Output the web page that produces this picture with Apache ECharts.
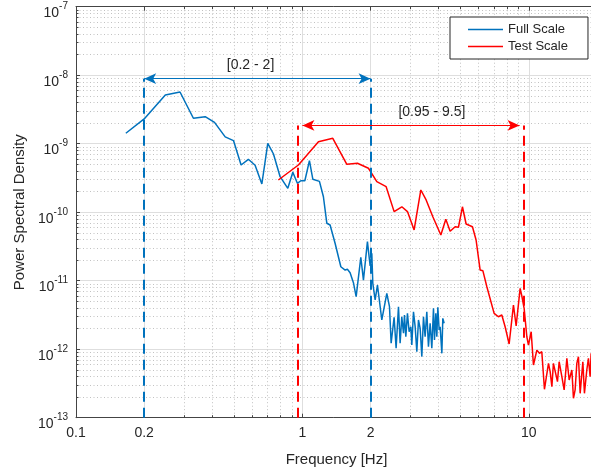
<!DOCTYPE html>
<html><head><meta charset="utf-8">
<script src="https://cdn.jsdelivr.net/npm/echarts@6/dist/echarts.min.js"></script>
<style>html,body{margin:0;padding:0;background:#fff}#c{width:591px;height:474px}</style>
</head><body><div id="c"></div><script>
const fullFreq = [0.166,0.200,0.248,0.288,0.330,0.372,0.409,0.456,0.496,0.536,0.577,0.618,0.662,0.703,0.745,0.797,0.862,0.907,0.950,0.984,1.025,1.074,1.112,1.189,1.238,1.282,1.325,1.394,1.478,1.544,1.580,1.624,1.680,1.727,1.811,1.860,1.937,1.991,2.025,2.046,2.095,2.145,2.189,2.242,2.359,2.424,2.465,2.541,2.593,2.656,2.701,2.747,2.795,2.823,2.862,2.910,2.960,3.011,3.042,3.094,3.147,3.201,3.255,3.311,3.368,3.425,3.483,3.543,3.603,3.665,3.728,3.792,3.830,3.883,3.923,3.963,4.017,4.058,4.129,4.169,4.226];
const fullPsd = [1.42e-9,2.30e-9,5.14e-9,5.69e-9,2.35e-9,2.48e-9,2.05e-9,1.26e-9,1.11e-9,4.89e-10,5.92e-10,4.84e-10,2.58e-10,1.01e-9,7.07e-10,3.30e-10,2.23e-10,3.82e-10,2.64e-10,2.88e-10,2.88e-10,5.65e-10,3.02e-10,2.82e-10,1.68e-10,6.89e-11,6.50e-11,3.52e-11,1.60e-11,1.43e-11,1.47e-11,1.31e-11,9.35e-12,5.84e-12,2.20e-11,1.02e-11,3.71e-11,1.64e-11,2.51e-11,9.16e-12,5.23e-12,8.65e-12,8.37e-12,2.67e-12,6.55e-12,4.17e-12,1.22e-12,2.92e-12,1.03e-12,4.17e-12,1.22e-12,2.98e-12,1.71e-12,3.16e-12,1.52e-12,3.34e-12,1.80e-12,2.13e-12,1.15e-12,3.52e-12,2.13e-12,9.2e-13,2.67e-12,2.02e-12,7.8e-13,2.98e-12,1.52e-12,3.52e-12,1.09e-12,2.39e-12,1.03e-12,3.95e-12,1.36e-12,3.34e-12,1.52e-12,4.09e-12,1.91e-12,2.13e-12,8.7e-13,2.82e-12,2.39e-12];
const testFreq = [0.783,0.960,1.177,1.362,1.571,1.750,1.957,2.131,2.343,2.541,2.748,2.910,3.114,3.334,3.519,3.767,4.087,4.299,4.491,4.726,4.887,5.090,5.285,5.636,5.848,6.094,6.264,6.525,7.026,7.339,7.597,7.857,8.185,8.551,8.788,9.153,9.312,9.533,9.799,9.960,10.24,10.48,10.85,11.14,11.41,11.72,11.92,12.21,12.42,12.64,12.84,13.07,13.38,13.61,13.99,14.32,14.72,15.07,15.49,15.74,16.01,16.29,16.56,16.85,17.32,17.60,18.03,18.33,18.65,18.84,19.20];
const testPsd = [2.95e-10,4.89e-10,1.07e-9,1.20e-9,5.00e-10,5.18e-10,4.38e-10,2.79e-10,2.36e-10,1.02e-10,1.20e-10,1.02e-10,5.50e-11,2.11e-10,1.51e-10,8.60e-11,4.65e-11,7.88e-11,5.26e-11,6.14e-11,6.02e-11,1.20e-10,6.73e-11,6.14e-11,3.93e-11,1.43e-11,1.40e-11,8.17e-12,3.34e-12,2.98e-12,3.16e-12,2.13e-12,1.19e-12,4.42e-12,2.18e-12,7.74e-12,5.98e-12,3.95e-12,1.52e-12,1.15e-12,1.80e-12,5.88e-13,9.7e-13,8.7e-13,9.2e-13,2.60e-13,2.48e-13,6.22e-13,4.70e-13,2.84e-13,6.22e-13,5.88e-13,3.36e-13,6.57e-13,3.97e-13,2.54e-13,7.36e-13,3.55e-13,4.97e-13,1.92e-13,2.54e-13,6.22e-13,7.78e-13,2.27e-13,6.57e-13,2.27e-13,4.97e-13,7.36e-13,3.97e-13,8.7e-13,6.0e-13];
const xMajorTicks = [0.1, 0.2, 1, 2, 10];
const xMinorTicks = [0.3,0.4,0.5,0.6,0.7,0.8,0.9,3,4,5,6,7,8,9,20];
const yMajorTicks = [1e-13,1e-12,1e-11,1e-10,1e-9,1e-8,1e-7];
const yMinorMultipliers = [2,3,4,5,6,7,8,9];
const yMinorTicks = yMajorTicks.slice(0,-1).flatMap(d => yMinorMultipliers.map(m => m*d));
const bandFull = [0.2, 2];
const bandTest = [0.95, 9.5];
const bandNames = ['[0.2 - 2]', '[0.95 - 9.5]'];
const seriesNames = ['Full Scale', 'Test Scale'];

const BLUE = '#0072BD', RED = '#FF0000';
const FONT = '"Liberation Sans", Arial, Helvetica, sans-serif';
const TXT = '#262626', AX = '#444444';
const chart = echarts.init(document.getElementById('c'));
const hidden = {axisLine:{show:false}, axisTick:{show:false}, axisLabel:{show:false}, splitLine:{show:false}};
function logX(extra){ return Object.assign({type:'log', logBase:10, min:0.1, max:20, gridIndex:0}, hidden, extra); }
function logY(extra){ return Object.assign({type:'log', logBase:10, min:1e-13, max:1e-7, gridIndex:0}, hidden, extra); }
const majorGrid = {show:true, lineStyle:{color:'#dedede', width:1}};
const minorGrid = {show:true, lineStyle:{color:'#c2c2c2', width:1, type:[1,2.5]}};
const tickStyle = {color:AX, width:1};
const expOf = v => Math.round(Math.log10(v));

function dashed(x, yTop, color){
  const ls = {color:color, width:2, type:[10,6]};
  return [{coord:[x,1e-13], symbol:'none', lineStyle:ls, itemStyle:{color}}, {coord:[x,yTop], symbol:'none', lineStyle:ls, itemStyle:{color}}];
}
function arrow(x0, x1, y, color){
  const ls = {color:color, width:1.2, type:'solid'};
  return [{coord:[x0,y], symbol:'arrow', symbolSize:[8,12], lineStyle:ls, itemStyle:{color}}, {coord:[x1,y], symbol:'arrow', symbolSize:[8,12], lineStyle:ls, itemStyle:{color}}];
}
const yFull = 8.9e-9, yTest = 1.85e-9;
const lineIcon = 'path://M0,0L35,0L35,1.5L0,1.5Z';

chart.setOption({
  animation:false,
  backgroundColor:'#fff',
  grid:{left:76, top:6.7, width:521, height:411, containLabel:false, outerBoundsMode:'none'},
  legend:{data:seriesNames.map(n => ({name:n, icon:lineIcon})), orient:'vertical', left:450, top:17,
    itemWidth:35, itemHeight:14, itemGap:4, symbolKeepAspect:true,
    padding:[6,20,6,18], borderColor:TXT, borderWidth:1, borderRadius:0, backgroundColor:'#fff',
    textStyle:{fontSize:13, fontFamily:FONT, color:TXT}},
  xAxis:[
    logX({position:'bottom', axisLine:{show:true, onZero:false, lineStyle:{color:AX, width:1}},
      axisTick:{show:true, inside:true, length:4, customValues:xMajorTicks, lineStyle:tickStyle},
      axisLabel:{show:true, customValues:xMajorTicks, margin:8, fontSize:14, fontFamily:FONT, color:TXT, formatter:v => String(+(+v).toPrecision(6))},
      splitLine:majorGrid,
      name:'Frequency [Hz]', nameLocation:'middle', nameGap:35, nameTextStyle:{fontSize:15, fontFamily:FONT, color:TXT}}),
    logX({position:'bottom', axisTick:{show:true, inside:true, length:2.5, customValues:xMinorTicks, lineStyle:tickStyle}, splitLine:minorGrid}),
    logX({position:'top', axisLine:{show:true, onZero:false, lineStyle:{color:AX, width:1}},
      axisTick:{show:true, inside:true, length:4, customValues:xMajorTicks, lineStyle:tickStyle}}),
    logX({position:'top', axisTick:{show:true, inside:true, length:2.5, customValues:xMinorTicks, lineStyle:tickStyle}})
  ],
  yAxis:[
    logY({position:'left', axisLine:{show:true, onZero:false, lineStyle:{color:AX, width:1}},
      axisTick:{show:true, inside:true, length:4, customValues:yMajorTicks, lineStyle:tickStyle},
      axisLabel:{show:true, customValues:yMajorTicks, margin:8, verticalAlign:'top', lineHeight:13, color:TXT, fontFamily:FONT,
        formatter:v => '{b|10}{h|' + expOf(v) + '}',
        rich:{b:{fontSize:14, lineHeight:13, fontFamily:FONT, color:TXT},
              h:{fontSize:10, lineHeight:13, fontFamily:FONT, color:'rgba(0,0,0,0)'}}},
      splitLine:majorGrid,
      name:'Power Spectral Density', nameLocation:'middle', nameGap:47, nameTextStyle:{fontSize:15, fontFamily:FONT, color:TXT}}),
    logY({position:'left', axisTick:{show:true, inside:true, length:2.5, customValues:yMinorTicks, lineStyle:tickStyle}, splitLine:minorGrid}),
    logY({position:'left', axisLabel:{show:true, customValues:yMajorTicks, margin:8, verticalAlign:'middle', lineHeight:10,
      fontSize:10, fontFamily:FONT, color:TXT, formatter:v => String(expOf(v))}})
  ],
  series:[
    {name:seriesNames[0], type:'line', xAxisIndex:0, yAxisIndex:0, data:fullFreq.map((f,i)=>[f, fullPsd[i]]),
      symbol:'none', showSymbol:false, lineStyle:{color:BLUE, width:1.5}, itemStyle:{color:BLUE}, z:3, silent:true},
    {name:seriesNames[1], type:'line', xAxisIndex:0, yAxisIndex:0, data:testFreq.map((f,i)=>[f, testPsd[i]]),
      symbol:'none', showSymbol:false, lineStyle:{color:RED, width:1.5}, itemStyle:{color:RED}, z:3, silent:true},
    {name:'annotations', type:'line', xAxisIndex:0, yAxisIndex:0, data:[], z:5, silent:true,
      markLine:{silent:true, animation:false, symbol:['none','none'], label:{show:false}, emphasis:{disabled:true},
        data:[
          dashed(bandFull[0], yFull, BLUE), dashed(bandFull[1], yFull, BLUE),
          dashed(bandTest[0], yTest, RED), dashed(bandTest[1], yTest, RED),
          arrow(bandFull[0], bandFull[1], yFull, BLUE),
          arrow(1.0, 9.1, yTest, RED)
        ]},
      markPoint:{silent:true, animation:false, symbol:'rect', symbolSize:1, itemStyle:{color:'rgba(0,0,0,0)'},
        label:{show:true, position:'inside', formatter:'{b}', fontSize:14, fontFamily:FONT, color:TXT},
        data:[{name:bandNames[0], coord:[0.59, 1.41e-8]}, {name:bandNames[1], coord:[3.73, 2.93e-9]}]}
    }
  ]
});
</script></body></html>
